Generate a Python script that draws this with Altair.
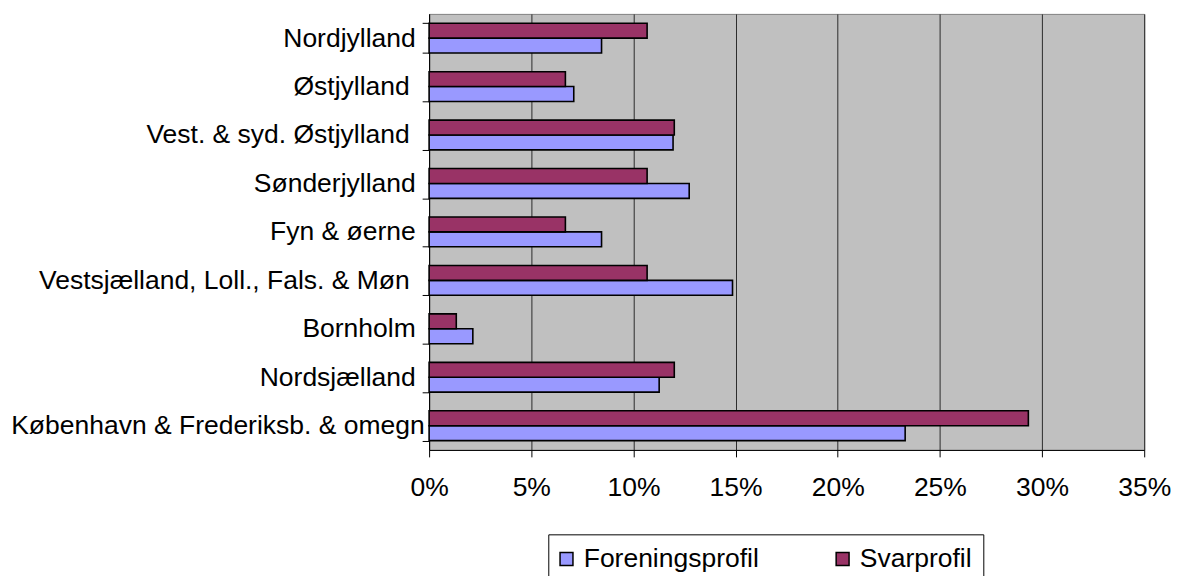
import altair as alt
import pandas as pd

# ---- data ----
regions = [
    "Nordjylland",
    "Østjylland",
    "Vest. & syd. Østjylland",
    "Sønderjylland",
    "Fyn & øerne",
    "Vestsjælland, Loll., Fals. & Møn",
    "Bornholm",
    "Nordsjælland",
    "København & Frederiksb. & omegn",
]
foreningsprofil = [8.44, 7.08, 11.94, 12.73, 8.44, 14.85, 2.14, 11.26, 23.30]
svarprofil = [10.67, 6.67, 12.00, 10.67, 6.67, 10.67, 1.33, 12.00, 29.33]
series = ["Foreningsprofil", "Svarprofil"]
series_colors = ["#9999FF", "#993366"]
x_ticks = [0, 0.05, 0.10, 0.15, 0.20, 0.25, 0.30, 0.35]

rows = []
for r, f, s in zip(regions, foreningsprofil, svarprofil):
    rows.append({"region": r, "series": "Foreningsprofil", "value": f / 100})
    rows.append({"region": r, "series": "Svarprofil", "value": s / 100})
df = pd.DataFrame(rows)

FONT = "Liberation Sans"
FS = 26.67

y_label_padding = {
    "condition": [
        {"test": "datum.label == 'København & Frederiksb. & omegn'", "value": -2},
        {
            "test": "datum.label == 'Østjylland' || datum.label == 'Vest. & syd. Østjylland' || datum.label == 'Vestsjælland, Loll., Fals. & Møn'",
            "value": 13,
        },
    ],
    "value": 7,
}

chart = (
    alt.Chart(df)
    .mark_bar(stroke="black", strokeWidth=1.6)
    .encode(
        x=alt.X(
            "value:Q",
            scale=alt.Scale(domain=[0, 0.35], nice=False, zero=True),
            axis=alt.Axis(
                values=x_ticks,
                format=".0%",
                title=None,
                grid=True,
                gridColor="#2b2b2b",
                gridWidth=1,
                tickSize=7,
                tickColor="black",
                domainColor="black",
                labelPadding=18,
                labelFlush=False,
                labelOverlap=False,
                labelFont=FONT,
                labelFontSize=FS,
                labelColor="black",
            ),
        ),
        y=alt.Y(
            "region:N",
            sort=regions,
            scale=alt.Scale(paddingInner=0.385, paddingOuter=0.1925),
            axis=alt.Axis(
                title=None,
                tickBand="extent",
                tickSize=7,
                tickColor="black",
                domainColor="black",
                labelPadding=y_label_padding,
                labelFont=FONT,
                labelFontSize=FS,
                labelColor="black",
                labelLimit=600,
            ),
        ),
        yOffset=alt.YOffset(
            "series:N",
            sort=["Svarprofil", "Foreningsprofil"],
            scale=alt.Scale(paddingInner=0, paddingOuter=0),
        ),
        color=alt.Color(
            "series:N",
            scale=alt.Scale(domain=series, range=series_colors),
            legend=alt.Legend(
                title=None,
                orient="none",
                legendX=120,
                legendY=524,
                direction="horizontal",
                columns=2,
                gridAlign="all",
                padding=11,
                strokeColor="black",
                fillColor="white",
                symbolType="square",
                symbolSize=169,
                symbolOffset=-6,
                symbolStrokeColor="black",
                symbolStrokeWidth=1.5,
                labelOffset=4,
                columnPadding=74,
                labelFont=FONT,
                labelFontSize=FS,
                labelColor="black",
                labelLimit=600,
            ),
        ),
    )
    .properties(
        width=720,
        height=439,
        autosize=alt.AutoSizeParams(type="none"),
        padding={"left": 424, "top": 4, "right": 30, "bottom": 125},
    )
    .configure_view(fill="#C0C0C0", stroke="#808080", strokeWidth=1)
)

chart.save("out.html", embed_options={"renderer": "svg", "actions": False})
